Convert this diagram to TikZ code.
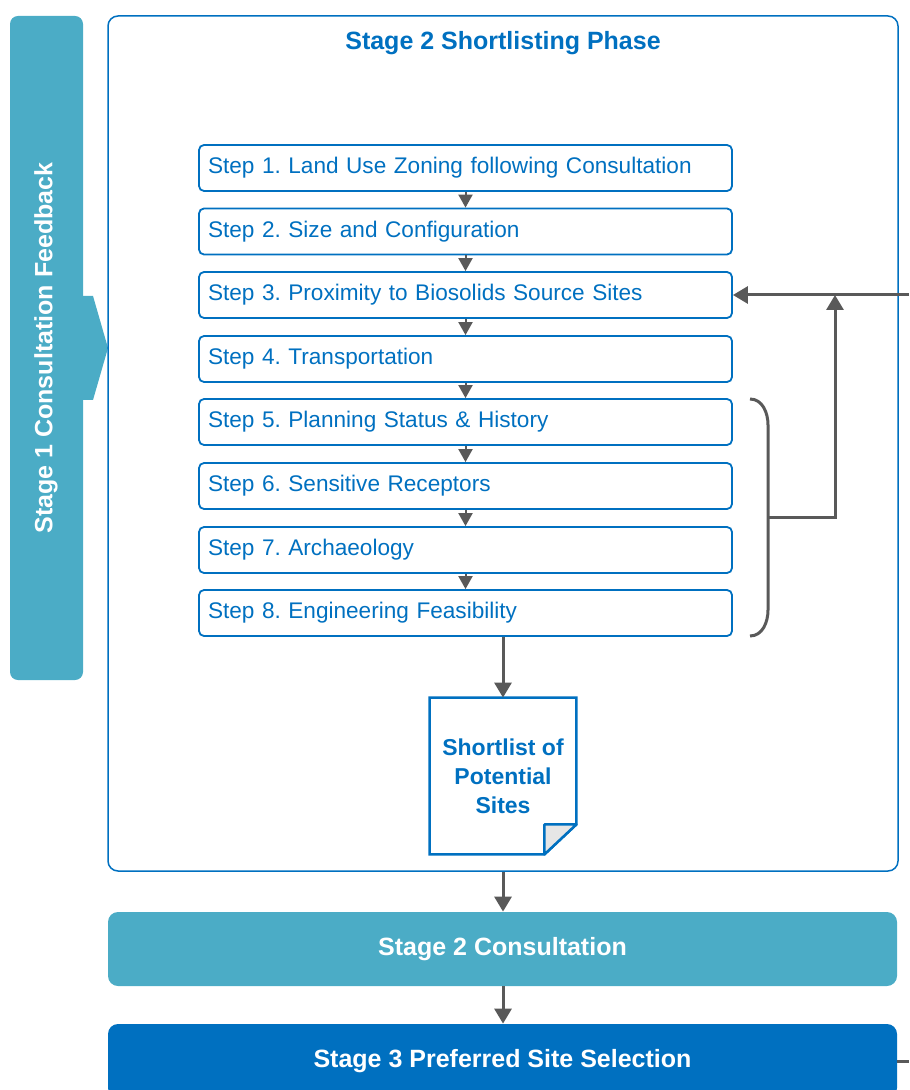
\documentclass[tikz,border=0pt]{standalone}
\usepackage{fontspec}
\setmainfont{Liberation Sans}
\usetikzlibrary{positioning,shapes,arrows.meta}

\definecolor{stageblue}{HTML}{0070C0}
\definecolor{stagecyan}{HTML}{4BACC6}
\definecolor{linegray}{HTML}{595959}
\definecolor{foldgray}{HTML}{E6E6E6}

\tikzset{
  stepbox/.style={draw=stageblue, line width=0.9pt, rounded corners=2.5pt,
    text width=257.5pt, inner xsep=4.5pt, minimum height=23pt, align=left,
    text=stageblue, font=\fontsize{11.3}{13}\selectfont},
  stagebar/.style={rounded corners=5pt, minimum width=394.5pt, minimum height=37pt,
    text=white, font=\bfseries\fontsize{12.5}{15}\selectfont},
  steparrow/.style={line width=1pt, draw=linegray, -{Triangle[width=7pt,length=6.5pt]}},
  flowarrow/.style={line width=1.5pt, draw=linegray, -{Triangle[width=8.5pt,length=7.5pt]}}
}

\begin{document}
\begin{tikzpicture}[x=0.5pt,y=-0.5pt]
\useasboundingbox (0,0) rectangle (909,1090);

% feedback bar on the left
\fill[stagecyan, rounded corners=4pt](10,16) rectangle (83,680);
\fill[stagecyan](80,296) -- (93,296) -- (108,348) -- (93,400) -- (80,400) -- cycle;
\node[rotate=90, text=white, font=\bfseries\fontsize{12.5}{15}\selectfont] (feedback) at (46,348) {Stage 1 Consultation Feedback};

% shortlisting frame
\node[draw=stageblue, line width=0.75pt, rounded corners=5pt, minimum width=395pt, minimum height=427.5pt] (frame) at (503,443.5) {};
\node[text=stageblue, font=\bfseries\fontsize{12.5}{15}\selectfont] (title) at (503,43) {Stage 2 Shortlisting Phase};

% steps
\node[stepbox] (s1) at (465.5,168) {Step 1.\ Land Use Zoning following Consultation};
\node[stepbox] (s2) at (465.5,231.5) {Step 2.\ Size and Configuration};
\node[stepbox] (s3) at (465.5,295) {Step 3.\ Proximity to Biosolids Source Sites};
\node[stepbox] (s4) at (465.5,359) {Step 4.\ Transportation};
\node[stepbox] (s5) at (465.5,422) {Step 5.\ Planning Status \& History};
\node[stepbox] (s6) at (465.5,486) {Step 6.\ Sensitive Receptors};
\node[stepbox] (s7) at (465.5,550) {Step 7.\ Archaeology};
\node[stepbox] (s8) at (465.5,613) {Step 8.\ Engineering Feasibility};

\draw[steparrow](s1) -- (s2);
\draw[steparrow](s2) -- (s3);
\draw[steparrow](s3) -- (s4);
\draw[steparrow](s4) -- (s5);
\draw[steparrow](s5) -- (s6);
\draw[steparrow](s6) -- (s7);
\draw[steparrow](s7) -- (s8);

% brace and feedback loop
\coordinate (bracetop) at (750,399);
\coordinate (bracebot) at (750,636);
\coordinate (bracemid) at (768,517);
\coordinate (join) at (835,295);
\coordinate (loopin) at (909,295);
\draw[line width=1.5pt, linegray](bracetop) to[out=0,in=90] (768,425) -- (768,610) to[out=-90,in=0] (bracebot);
\draw[flowarrow](bracemid) -| (join);
\draw[flowarrow](loopin) -- (s3.east);

% shortlist document
\node[text=stageblue, align=center, minimum width=73pt, minimum height=78pt,
  font=\bfseries\fontsize{11.5}{14.5}\selectfont] (doc) at (503,776) {Shortlist of\\Potential\\Sites};
\draw[stageblue, line width=1.25pt](doc.north west) -- (doc.north east) -- ([yshift=15pt]doc.south east)
  -- ([xshift=-16pt]doc.south east) -- (doc.south west) -- cycle;
\filldraw[fill=foldgray, draw=stageblue, line width=1.25pt, line join=round]([xshift=-16pt]doc.south east)
  -- ([xshift=-16pt,yshift=15pt]doc.south east) -- ([yshift=15pt]doc.south east) -- cycle;
\draw[flowarrow](doc |- s8.south) -- (doc.north);

% later stages
\node[stagebar, fill=stagecyan] (stage2) at (502.5,949) {Stage 2 Consultation};
\node[stagebar, fill=stageblue] (stage3) at (502.5,1061) {Stage 3 Preferred Site Selection};
\coordinate (stageout) at (909,1061);
\draw[flowarrow](frame.south -| doc) -- (stage2.north -| doc);
\draw[flowarrow](stage2.south -| doc) -- (stage3.north -| doc);
\draw[line width=1.5pt, linegray](stage3.east) -- (stageout);
\end{tikzpicture}
\end{document}
